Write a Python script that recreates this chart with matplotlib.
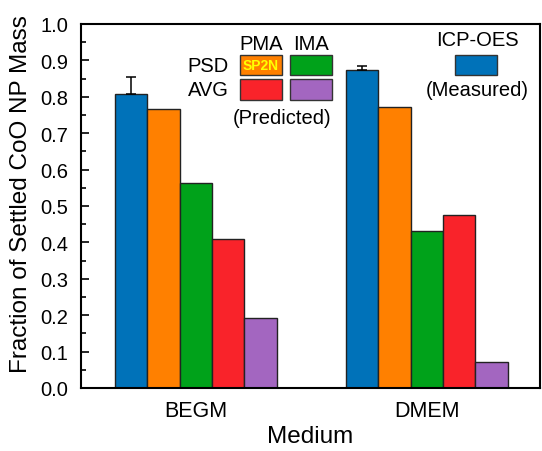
import matplotlib
matplotlib.use("Agg")
import matplotlib.pyplot as plt
from matplotlib.patches import Rectangle
from matplotlib.ticker import MultipleLocator
import numpy as np

plt.rcParams['font.family'] = ['Liberation Sans', 'DejaVu Sans']

categories = ["BEGM", "DMEM"]
series_names = ["ICP-OES", "PSD-PMA", "PSD-IMA", "AVG-PMA", "AVG-IMA"]
icp_oes = [0.808, 0.873]
psd_pma = [0.767, 0.773]
psd_ima = [0.562, 0.430]
avg_pma = [0.410, 0.475]
avg_ima = [0.191, 0.071]
icp_err = [0.046, 0.011]

colors = ["#0072b9", "#ff8000", "#00a21a", "#f9232a", "#a366c0"]

fig = plt.figure(figsize=(5.42, 4.52), dpi=100)
ax = fig.add_axes([81/542, 1-389/452, 459/542, 364/452])

x = np.arange(1, len(categories)+1)
w = 0.14
data = [icp_oes, psd_pma, psd_ima, avg_pma, avg_ima]
for i, (vals, c) in enumerate(zip(data, colors)):
    kw = {}
    if i == 0:
        kw = dict(yerr=[[0, 0], icp_err], error_kw=dict(ecolor='black', elinewidth=1.1, capsize=3.3, capthick=1.1))
    ax.bar(x + (i-2)*w, vals, w, color=c, edgecolor='#222222', linewidth=1.0, zorder=2, **kw)

ax.set_xlim(0.502, 2.49)
ax.set_ylim(0, 1.0)
ax.set_xticks(x)
ax.set_xticklabels(categories, fontsize=15.5)
ax.tick_params(axis='x', length=0, pad=9)
ax.yaxis.set_major_locator(MultipleLocator(0.1))
ax.yaxis.set_minor_locator(MultipleLocator(0.05))
ax.yaxis.set_major_formatter(matplotlib.ticker.FormatStrFormatter('%.1f'))
ax.tick_params(axis='y', which='major', direction='in', length=6, width=1.2, labelsize=14.5, pad=9)
ax.tick_params(axis='y', which='minor', direction='in', length=3.5, width=1.2)
for s in ax.spines.values():
    s.set_linewidth(1.5)
ax.set_ylabel("Fraction of Settled CoO NP Mass", fontsize=17.5)
ax.yaxis.set_label_coords(-49/459, 0.535)
ax.set_xlabel("Medium", fontsize=17.5)
ax.xaxis.set_label_coords(0.5, -37/364)

def fx(px):
    return px/542
def fy(py):
    return 1-py/452

def box(x0, y0, x1, y1, c):
    r = Rectangle((fx(x0), fy(y1)), fx(x1)-fx(x0), fy(y0)-fy(y1), transform=fig.transFigure,
                  facecolor=c, edgecolor='#333333', linewidth=1.0, zorder=5)
    fig.add_artist(r)

fs = 14.5
fig.text(fx(261), fy(44), "PMA", ha='center', va='center', fontsize=fs)
fig.text(fx(311), fy(44), "IMA", ha='center', va='center', fontsize=fs)
fig.text(fx(229), fy(67), "PSD", ha='right', va='center', fontsize=fs)
fig.text(fx(229), fy(90), "AVG", ha='right', va='center', fontsize=fs)
box(240, 56, 282, 76, colors[1])
box(290, 56, 332, 76, colors[2])
box(240, 80, 282, 101, colors[3])
box(290, 80, 332, 101, colors[4])
fig.text(fx(261), fy(66.5), "SP2N", ha='center', va='center', fontsize=10, color='#ffff00',
         fontweight='bold', zorder=6)
fig.text(fx(282), fy(119), "(Predicted)", ha='center', va='center', fontsize=fs)
fig.text(fx(477), fy(41), "ICP-OES", ha='center', va='center', fontsize=fs)
box(455, 56, 497, 76, colors[0])
fig.text(fx(477), fy(90), "(Measured)", ha='center', va='center', fontsize=fs)

fig.savefig("out.png", dpi=100)
